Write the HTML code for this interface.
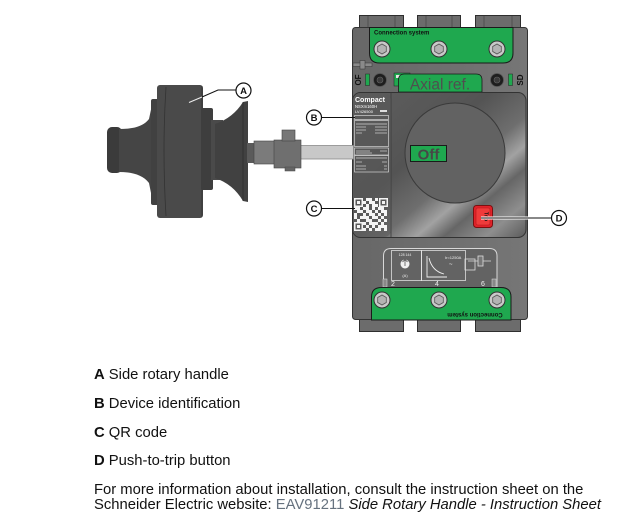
<!DOCTYPE html>
<html><head><meta charset="utf-8"><style>
html,body{margin:0;padding:0;background:#fff;width:641px;height:531px;overflow:hidden}
svg{display:block}
text{font-family:"Liberation Sans",Arial,sans-serif}
</style></head><body>
<svg width="641" height="531" viewBox="0 0 641 531" xmlns="http://www.w3.org/2000/svg">
<defs>
<linearGradient id="pg" x1="0" y1="0" x2="1" y2="1">
<stop offset="0" stop-color="#5e5e5e"/>
<stop offset="0.4" stop-color="#545454"/>
<stop offset="0.58" stop-color="#6e6e6e"/>
<stop offset="0.68" stop-color="#a2a2a2"/>
<stop offset="0.76" stop-color="#666"/>
<stop offset="0.88" stop-color="#8e8e8e"/>
<stop offset="1" stop-color="#5a5a5a"/>
</linearGradient>
<linearGradient id="bgr" x1="0" y1="0" x2="1" y2="0">
<stop offset="0" stop-color="#676767"/><stop offset="1" stop-color="#767676"/>
</linearGradient>
<g id="screw">
<circle r="8" fill="#c9c9c9" stroke="#333" stroke-width="1"/>
<polygon points="0,-5 4.3,-2.5 4.3,2.5 0,5 -4.3,2.5 -4.3,-2.5" fill="#b3b3b3" stroke="#555" stroke-width="0.8"/>
</g>
<g id="bscrew">
<circle r="6.5" fill="#1e1e1e" stroke="#555" stroke-width="0.8"/>
<circle r="3" fill="#3a3a3a" stroke="#666" stroke-width="0.6"/>
</g>
</defs>

<!-- top terminals -->
<g fill="#6c6c6c" stroke="#2e2e2e" stroke-width="1">
<rect x="359.5" y="15.5" width="44" height="14"/>
<rect x="417.5" y="15.5" width="43" height="14"/>
<rect x="475.5" y="15.5" width="45" height="14"/>
</g>
<g stroke="#4a4a4a" stroke-width="0.8">
<line x1="368" y1="16" x2="368" y2="29"/><line x1="395" y1="16" x2="395" y2="29"/>
<line x1="426" y1="16" x2="426" y2="29"/><line x1="452" y1="16" x2="452" y2="29"/>
<line x1="484" y1="16" x2="484" y2="29"/><line x1="512" y1="16" x2="512" y2="29"/>
</g>
<!-- bottom terminals -->
<g fill="#6c6c6c" stroke="#2e2e2e" stroke-width="1">
<rect x="359.5" y="318.5" width="44" height="13"/>
<rect x="417.5" y="318.5" width="43" height="13"/>
<rect x="475.5" y="318.5" width="45" height="13"/>
</g>

<!-- body -->
<rect x="352.5" y="27.5" width="175" height="292" rx="3" fill="url(#bgr)" stroke="#333"/>

<!-- top green plate -->
<path d="M369.5,27.5 V53 Q369.5,63 379.5,63 H503 Q513,63 513,53 V27.5 Z" fill="#1fa84f" stroke="#1a1a1a"/>
<text x="374" y="34.5" font-size="6" font-weight="bold" fill="#111">Connection system</text>
<use href="#screw" x="382" y="49"/>
<use href="#screw" x="439" y="49"/>
<use href="#screw" x="497" y="49"/>

<!-- OF / SD -->
<rect x="353" y="63" width="19" height="3.5" fill="#8a8a8a" stroke="#333" stroke-width="0.5"/>
<rect x="360" y="60.5" width="5" height="8.5" fill="#8a8a8a" stroke="#333" stroke-width="0.5"/>
<text transform="translate(361,80) rotate(-90)" font-size="8" font-weight="bold" fill="#111" text-anchor="middle">OF</text>
<rect x="365.5" y="74" width="4" height="11.5" fill="#1fa84f" stroke="#222" stroke-width="0.5"/>
<use href="#bscrew" x="380" y="80"/>
<text transform="translate(523,80) rotate(-90)" font-size="8" font-weight="bold" fill="#111" text-anchor="middle">SD</text>
<rect x="508.5" y="74" width="4" height="11.5" fill="#1fa84f" stroke="#222" stroke-width="0.5"/>
<use href="#bscrew" x="497" y="80"/>
<rect x="394" y="73" width="16" height="13" fill="#1fa84f" stroke="#222" stroke-width="0.5"/>
<rect x="396" y="75" width="5" height="3" fill="#e8e8e8"/>
<path d="M398.5,92 V80 Q398.5,74 404.5,74 H476 Q482,74 482,80 V92 Z" fill="#1fa84f" stroke="#1a1a1a" stroke-width="0.8"/>
<text x="440" y="89.5" font-size="15.5" fill="#4f4f4f" text-anchor="middle">Axial ref.</text>

<!-- front panel -->
<rect x="352.5" y="92.5" width="173.5" height="145" rx="8" fill="url(#pg)" stroke="#333"/>
<line x1="391" y1="93" x2="391" y2="237" stroke="#3a3a3a" stroke-width="0.8"/>
<rect x="353" y="93" width="38" height="144" rx="7" fill="#585858" opacity="0.5"/>
<circle cx="455" cy="153" r="50" fill="#626262" stroke="#3a3a3a" stroke-width="1"/>
<rect x="410.5" y="145.5" width="36" height="16" fill="#1fa84f" stroke="#1a1a1a"/>
<text x="428.5" y="159.5" font-size="15" font-weight="bold" fill="#474747" text-anchor="middle">Off</text>

<!-- trip -->
<rect x="473.5" y="205.5" width="19" height="22" rx="3" fill="#e0222a" stroke="#7a1010"/>
<rect x="476" y="208" width="14" height="17" rx="2" fill="#ef3b3b" stroke="#b31a1a" stroke-width="0.6"/>
<text transform="translate(484.5,216.5) rotate(90)" font-size="5" font-weight="bold" fill="#111" text-anchor="middle">Trip</text>

<!-- label strip -->
<text x="355" y="102" font-size="7" font-weight="bold" fill="#fff">Compact</text>
<text x="355" y="108" font-size="4.2" fill="#fff">NSXm160H</text>
<text x="355" y="113" font-size="4" fill="#fff">LV426500</text>
<rect x="380" y="110" width="7" height="2" fill="#ddd"/>
<g fill="none" stroke="#e6e6e6" stroke-width="0.6">
<rect x="354.5" y="115.5" width="34" height="4"/>
<rect x="354.5" y="120.5" width="34" height="26"/>
<rect x="354.5" y="148" width="34" height="7"/>
<rect x="354.5" y="155.5" width="34" height="16.5"/>
</g>
<g stroke="#d0d0d0" stroke-width="0.7">
<line x1="356" y1="124" x2="387" y2="124"/>
<line x1="356" y1="127" x2="366" y2="127"/><line x1="375" y1="127" x2="387" y2="127"/>
<line x1="356" y1="130" x2="366" y2="130"/><line x1="375" y1="130" x2="387" y2="130"/>
<line x1="356" y1="133" x2="362" y2="133"/><line x1="375" y1="133" x2="387" y2="133"/>
<line x1="356" y1="151" x2="370" y2="151"/><line x1="380" y1="151" x2="387" y2="151"/>
<line x1="356" y1="153" x2="372" y2="153"/>
<line x1="356" y1="158" x2="387" y2="158"/>
<line x1="356" y1="162" x2="362" y2="162"/><line x1="382" y1="162" x2="387" y2="162"/>
<line x1="356" y1="166" x2="366" y2="166"/><line x1="384" y1="166" x2="387" y2="166"/>
<line x1="356" y1="169" x2="366" y2="169"/><line x1="384" y1="169" x2="387" y2="169"/>
</g>
<!-- QR -->
<g fill="#f4f4f4">
<path d="M354,198h9v9h-9z M355.5,199.5v6h6v-6z" fill-rule="evenodd"/>
<rect x="357" y="201" width="3" height="3"/>
<path d="M379,198h9v9h-9z M380.5,199.5v6h6v-6z" fill-rule="evenodd"/>
<rect x="382" y="201" width="3" height="3"/>
<path d="M354,222h9v9h-9z M355.5,223.5v6h6v-6z" fill-rule="evenodd"/>
<rect x="357" y="225" width="3" height="3"/>
<rect x="366" y="198" width="6" height="3"/><rect x="375" y="198" width="3" height="3"/>
<rect x="363" y="201" width="3" height="3"/><rect x="369" y="201" width="6" height="3"/>
<rect x="366" y="204" width="3" height="3"/><rect x="372" y="204" width="6" height="3"/>
<rect x="354" y="207" width="6" height="3"/><rect x="363" y="207" width="6" height="3"/><rect x="372" y="207" width="3" height="3"/><rect x="378" y="207" width="6" height="3"/>
<rect x="357" y="210" width="6" height="3"/><rect x="366" y="210" width="6" height="3"/><rect x="375" y="210" width="3" height="3"/><rect x="381" y="210" width="6" height="3"/>
<rect x="354" y="213" width="3" height="3"/><rect x="363" y="213" width="3" height="3"/><rect x="369" y="213" width="6" height="3"/><rect x="378" y="213" width="3" height="3"/><rect x="384" y="213" width="3" height="3"/>
<rect x="354" y="216" width="3" height="3"/><rect x="360" y="216" width="9" height="3"/><rect x="372" y="216" width="6" height="3"/><rect x="381" y="216" width="3" height="3"/>
<rect x="357" y="219" width="3" height="3"/><rect x="366" y="219" width="6" height="3"/><rect x="378" y="219" width="3" height="3"/><rect x="384" y="219" width="3" height="3"/>
<rect x="363" y="222" width="3" height="3"/><rect x="369" y="222" width="9" height="3"/><rect x="381" y="222" width="3" height="3"/>
<rect x="366" y="225" width="3" height="3"/><rect x="372" y="225" width="3" height="3"/><rect x="378" y="225" width="9" height="3"/>
<rect x="363" y="228" width="3" height="3"/><rect x="369" y="228" width="3" height="3"/><rect x="375" y="228" width="6" height="3"/><rect x="384" y="228" width="3" height="3"/>
</g>

<!-- lower label plate -->
<path d="M383.5,287 V256 Q383.5,248.5 391,248.5 H489.5 Q497,248.5 497,256 V287" fill="#636363" stroke="#d8d8d8" stroke-width="1"/>
<g fill="none" stroke="#eee" stroke-width="0.7">
<rect x="391.5" y="250.5" width="30" height="30"/>
<rect x="421.5" y="250.5" width="44" height="30"/>
</g>
<circle cx="405" cy="264" r="4.5" fill="#f0f0f0"/>
<path d="M405,260 v6 M402.5,262 L405,259.5 L407.5,262" stroke="#555" stroke-width="0.8" fill="none"/>
<text x="405" y="256" font-size="3.5" fill="#eee" text-anchor="middle">128 144</text>
<text x="405" y="277" font-size="4" fill="#eee" text-anchor="middle">(A)</text>
<path d="M427,256 V277 H447 M429,258 Q432,271 444,274" stroke="#f0f0f0" stroke-width="0.9" fill="none"/>
<text x="445" y="259" font-size="4" fill="#eee">Ir=1250A</text>
<text x="449" y="266" font-size="6" fill="#eee">~</text>
<g stroke="#ddd" stroke-width="0.8" fill="none">
<line x1="468" y1="261" x2="491" y2="261"/>
<rect x="478" y="256" width="5" height="10" fill="#777"/>
<rect x="465" y="259" width="10" height="11"/>
</g>
<rect x="383" y="279" width="4" height="8" fill="#888" stroke="#ddd" stroke-width="0.5"/>
<rect x="492" y="279" width="4" height="8" fill="#888" stroke="#ddd" stroke-width="0.5"/>
<text x="393" y="286" font-size="7" fill="#eee" text-anchor="middle">2</text>
<text x="437" y="286" font-size="7" fill="#eee" text-anchor="middle">4</text>
<text x="483" y="286" font-size="7" fill="#eee" text-anchor="middle">6</text>

<!-- bottom green plate -->
<path d="M371.5,320 V297 Q371.5,287.5 381.5,287.5 H501 Q511,287.5 511,297 V320 Z" fill="#1fa84f" stroke="#1a1a1a"/>
<use href="#screw" x="382" y="300"/>
<use href="#screw" x="439" y="300"/>
<use href="#screw" x="497" y="300"/>
<text transform="translate(475,313) rotate(180)" font-size="6" font-weight="bold" fill="#111" text-anchor="middle">Connection system</text>

<!-- handle -->
<rect x="107" y="127" width="15" height="46" rx="5" fill="#3b3b3b"/>
<path d="M119,129 C132,129 143,127 149,119 L153,100 L153,203 L149,183 C143,175 132,172 119,172 Z" fill="#454545"/>
<rect x="151" y="99" width="9" height="106" rx="2" fill="#414141"/>
<rect x="157" y="85" width="46" height="133" rx="3" fill="#4a4a4a"/>
<path d="M166,87 Q162,150 166,216" stroke="#333" stroke-width="0.8" fill="none"/>
<line x1="202" y1="86" x2="202" y2="217" stroke="#333" stroke-width="0.8"/>
<rect x="201" y="108" width="12" height="82" rx="2" fill="#3e3e3e"/>
<rect x="211" y="120" width="12" height="60" fill="#4a4a4a"/>
<path d="M215,124 Q233,118 243,102 L248,101 L248,202 L243,201 Q233,184 215,178 Z" fill="#414141"/>
<line x1="243" y1="102" x2="243" y2="201" stroke="#2e2e2e" stroke-width="0.8"/>
<!-- coupling & shaft -->
<rect x="300.5" y="145.5" width="53" height="13.5" fill="#c8c8c8" stroke="#8a8a8a" stroke-width="0.8"/>
<rect x="247" y="143" width="8" height="20" fill="#5a5a5a"/>
<rect x="254" y="141" width="22" height="23" fill="#7b7b7b" stroke="#444" stroke-width="0.6"/>
<rect x="274" y="140" width="27" height="28" fill="#6f6f6f" stroke="#444" stroke-width="0.6"/>
<rect x="282" y="130" width="13" height="11" fill="#777" stroke="#444" stroke-width="0.6"/>
<rect x="285" y="167" width="10" height="4" fill="#666" stroke="#444" stroke-width="0.5"/>

<!-- callouts -->
<polyline points="236,90 218,90 202,97" fill="none" stroke="#111" stroke-width="1"/>
<line x1="202" y1="97" x2="189" y2="102.5" stroke="#eee" stroke-width="1"/>
<line x1="321" y1="117.5" x2="355" y2="117.5" stroke="#111" stroke-width="1"/>
<line x1="321" y1="208.5" x2="355" y2="208.5" stroke="#111" stroke-width="1"/>
<line x1="481" y1="218" x2="552" y2="218" stroke="#fff" stroke-width="3"/>
<line x1="481" y1="218" x2="552" y2="218" stroke="#111" stroke-width="1"/>
<g fill="#fff" stroke="#111" stroke-width="1.2">
<circle cx="243.5" cy="90.5" r="7.5"/>
<circle cx="314" cy="117.5" r="7.5"/>
<circle cx="314" cy="208.5" r="7.5"/>
<circle cx="559" cy="218" r="7.5"/>
</g>
<g font-size="9.5" font-weight="bold" fill="#111" text-anchor="middle">
<text x="243.5" y="94">A</text>
<text x="314" y="121">B</text>
<text x="314" y="212">C</text>
<text x="559" y="221.5">D</text>
</g>

<!-- legend -->
<g font-size="14.8" fill="#111">
<text x="94" y="379"><tspan font-weight="bold">A</tspan> Side rotary handle</text>
<text x="94" y="408"><tspan font-weight="bold">B</tspan> Device identification</text>
<text x="94" y="437"><tspan font-weight="bold">C</tspan> QR code</text>
<text x="94" y="465"><tspan font-weight="bold">D</tspan> Push-to-trip button</text>
<text x="94" y="494">For more information about installation, consult the instruction sheet on the</text>
<text x="94" y="509">Schneider Electric website: <tspan fill="#66727f">EAV91211</tspan> <tspan font-style="italic">Side Rotary Handle - Instruction Sheet</tspan></text>
</g>
</svg>
</body></html>
